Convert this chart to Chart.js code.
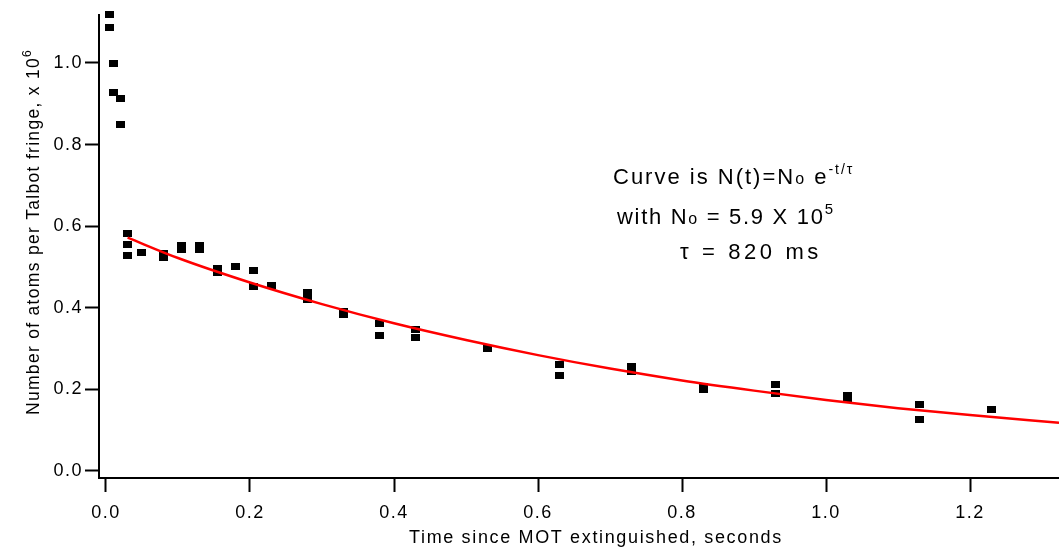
<!DOCTYPE html>
<html>
<head>
<meta charset="utf-8">
<script src="https://cdn.jsdelivr.net/npm/chart.js@4"></script>
<style>
	body { margin: 0; background: #fff; }
	#wrap { width: 1059px; height: 550px; position: relative; }
</style>
</head>
<body>
<div id="wrap"><canvas id="chart"></canvas></div>
<script>
'use strict'

// measured points (seconds, atoms x 1e6)
const times = [0.005, 0.005, 0.01, 0.01, 0.02, 0.02, 0.03, 0.03, 0.03, 0.05, 0.08, 0.08, 0.105, 0.105, 0.13, 0.13, 0.155, 0.155, 0.18, 0.205, 0.205, 0.23, 0.28, 0.28, 0.33, 0.33, 0.38, 0.38, 0.43, 0.43, 0.53, 0.63, 0.63, 0.73, 0.73, 0.83, 0.83, 0.93, 0.93, 1.03, 1.03, 1.13, 1.13, 1.23]
const atoms = [1.118, 1.087, 0.998, 0.927, 0.914, 0.849, 0.583, 0.554, 0.529, 0.536, 0.534, 0.524, 0.552, 0.542, 0.552, 0.542, 0.496, 0.486, 0.502, 0.491, 0.452, 0.454, 0.438, 0.421, 0.392, 0.383, 0.362, 0.333, 0.347, 0.327, 0.301, 0.261, 0.234, 0.255, 0.245, 0.207, 0.199, 0.213, 0.190, 0.186, 0.178, 0.164, 0.127, 0.150]

// fitted curve
const fitTimes = [0.03, 0.1, 0.2, 0.3, 0.4, 0.5, 0.6, 0.7, 0.8, 0.9, 1.0, 1.1, 1.2, 1.3236]
const fitAtoms = [0.572, 0.522, 0.462, 0.409, 0.362, 0.321, 0.284, 0.251, 0.222, 0.197, 0.174, 0.154, 0.137, 0.118]

const xTicks = [0, 0.2, 0.4, 0.6, 0.8, 1.0, 1.2]
const yTicks = [0, 0.2, 0.4, 0.6, 0.8, 1.0]

const FONT = '"Liberation Sans", Arial, Helvetica, sans-serif'

function makeMarker() {
	const c = document.createElement('canvas')
	c.width = 9
	c.height = 7
	const g = c.getContext('2d')
	g.fillStyle = '#000'
	g.fillRect(0, 0, 9, 7)
	return c
}

function drawParts(ctx, x, y, spacing, parts) {
	ctx.letterSpacing = spacing + 'px'
	parts.forEach(p => {
		ctx.font = p[1] + 'px ' + FONT
		ctx.fillText(p[0], x, y + (p[2] || 0))
		x += ctx.measureText(p[0]).width
	})
}

const textPlugin = {
	id: 'texts',
	beforeDraw(chart) {
		chart.ctx.letterSpacing = '1.5px'
	},
	afterDraw(chart) {
		const ctx = chart.ctx
		ctx.save()
		ctx.fillStyle = '#000'
		ctx.textAlign = 'left'
		ctx.textBaseline = 'alphabetic'

		// x title
		drawParts(ctx, 409, 543, 1.65, [['Time since MOT extinguished, seconds', 18]])

		// y title
		ctx.save()
		ctx.translate(39, 415)
		ctx.rotate(-Math.PI / 2)
		drawParts(ctx, 0, 0, 1.3, [['Number of atoms per Talbot fringe, x 10', 17.5], ['6', 12, -8]])
		ctx.restore()

		// annotation
		drawParts(ctx, 613, 184, 2, [['Curve is N(t)=N', 22], ['o', 16], [' e', 22], ['-t/τ', 14, -10]])
		drawParts(ctx, 617, 224, 1.7, [['with N', 22], ['o', 16], [' = 5.9 X 10', 22], ['5', 15, -10]])
		drawParts(ctx, 680, 259, 3.6, [['τ = 820 ms', 22]])
		ctx.restore()
	},
}

function fmt(v) {
	return v.toFixed(1)
}

function noPad(scale) {
	scale.paddingLeft = 0
	scale.paddingRight = 0
	scale.paddingTop = 0
	scale.paddingBottom = 0
}

new Chart(document.getElementById('chart'), {
	type: 'scatter',
	data: {
		datasets: [
			{
				label: 'fit',
				data: fitTimes.map((t, i) => ({ x: t, y: fitAtoms[i] })),
				showLine: true,
				borderColor: '#ff0000',
				borderWidth: 2.5,
				pointRadius: 0,
				cubicInterpolationMode: 'monotone',
				order: 0,
			},
			{
				label: 'atoms',
				data: times.map((t, i) => ({ x: t, y: atoms[i] })),
				pointStyle: makeMarker(),
				backgroundColor: '#000',
				borderColor: '#000',
				clip: false,
				order: 1,
			},
		],
	},
	options: {
		responsive: true,
		maintainAspectRatio: false,
		animation: false,
		layout: { autoPadding: false, padding: { top: 15, right: 0, left: 0, bottom: 0 } },
		plugins: {
			legend: { display: false },
			tooltip: { enabled: false },
		},
		scales: {
			x: {
				type: 'linear',
				min: -0.00972,
				max: 1.3236,
				afterFit: scale => { scale.height = 72; noPad(scale) },
				afterBuildTicks: scale => { scale.ticks = xTicks.map(v => ({ value: v })) },
				border: { display: true, color: '#000', width: 2 },
				grid: { drawOnChartArea: false, drawTicks: true, tickLength: 14, tickWidth: 2, tickColor: '#000' },
				ticks: { color: '#000', font: { family: FONT, size: 18 }, padding: 10, maxRotation: 0, callback: fmt },
			},
			y: {
				type: 'linear',
				min: -0.01716,
				max: 1.1176,
				afterFit: scale => { scale.width = 99; noPad(scale) },
				afterBuildTicks: scale => { scale.ticks = yTicks.map(v => ({ value: v })) },
				border: { display: true, color: '#000', width: 2 },
				grid: { drawOnChartArea: false, drawTicks: true, tickLength: 14, tickWidth: 2, tickColor: '#000' },
				ticks: { color: '#000', font: { family: FONT, size: 18 }, padding: 2, callback: fmt },
			},
		},
	},
	plugins: [textPlugin],
})
</script>
</body>
</html>
